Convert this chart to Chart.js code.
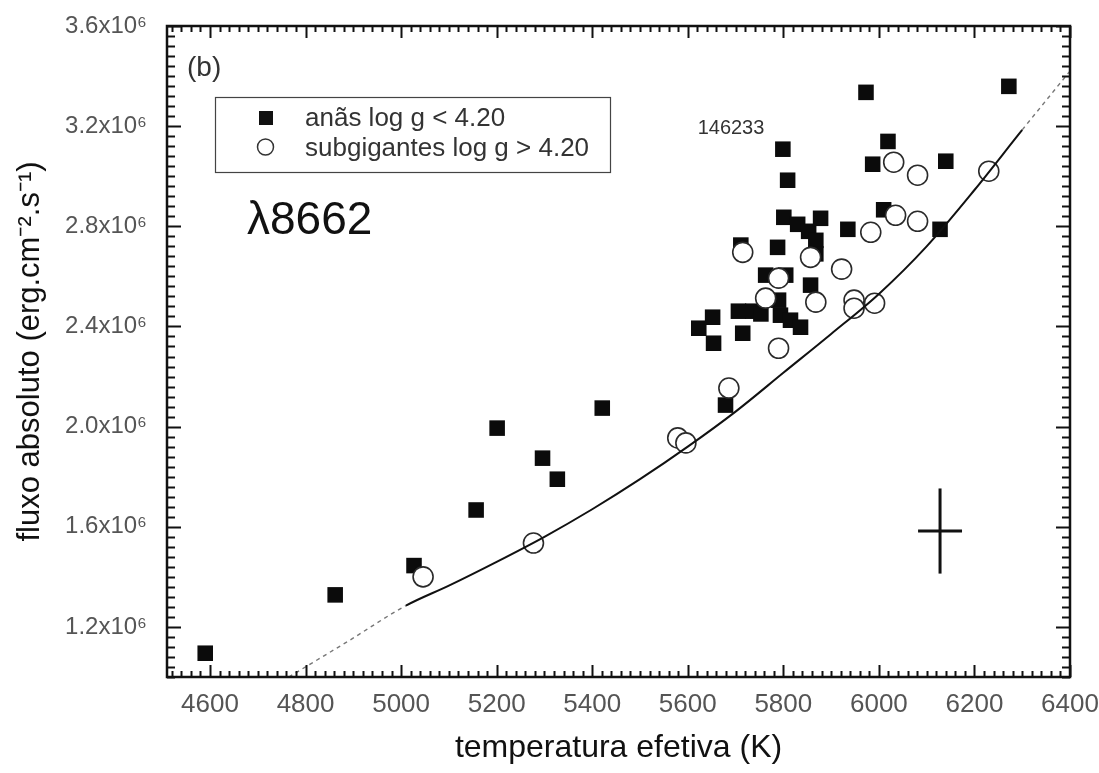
<!DOCTYPE html>
<html>
<head>
<meta charset="utf-8">
<script src="https://cdn.jsdelivr.net/npm/chart.js@4.4.1/dist/chart.umd.min.js"></script>
<style>
  html, body { margin: 0; padding: 0; background: #ffffff; }
  #wrap { width: 1099px; height: 773px; }
</style>
</head>
<body>
<div id="wrap"><canvas id="c" width="1099" height="773"></canvas></div>
<script>
// Axis ticks
const xTicks = [4600, 4800, 5000, 5200, 5400, 5600, 5800, 6000, 6200, 6400];
const yTicks = [1.2e6, 1.6e6, 2.0e6, 2.4e6, 2.8e6, 3.2e6, 3.6e6];
const yTickLabels = ['1.2x10⁶', '1.6x10⁶', '2.0x10⁶', '2.4x10⁶', '2.8x10⁶', '3.2x10⁶', '3.6x10⁶'];

// Dwarfs (log g < 4.20): effective temperature (K) and absolute flux
const dwarfTeff = [4590, 4862, 5027, 5157, 5201, 5296, 5327, 5421, 5623, 5652,
                   5654, 5679, 5706, 5711, 5715, 5736, 5753, 5763, 5805, 5788,
                   5790, 5794, 5815, 5836, 5799, 5809, 5801, 5830, 5853, 5868,
                   5868, 5878, 5857, 5935, 5973, 5987, 6010, 6019, 6128, 6140, 6272];
const dwarfFlux = [1.095e6, 1.328e6, 1.445e6, 1.667e6, 1.994e6, 1.874e6, 1.790e6, 2.074e6, 2.393e6, 2.437e6,
                   2.333e6, 2.086e6, 2.461e6, 2.725e6, 2.373e6, 2.461e6, 2.450e6, 2.605e6, 2.605e6, 2.716e6,
                   2.505e6, 2.445e6, 2.425e6, 2.397e6, 3.108e6, 2.984e6, 2.836e6, 2.808e6, 2.780e6, 2.744e6,
                   2.690e6, 2.832e6, 2.565e6, 2.788e6, 3.335e6, 3.048e6, 2.866e6, 3.139e6, 2.788e6, 3.060e6, 3.359e6];

// Subgiants (log g > 4.20)
const subTeff = [5046, 5277, 5579, 5596, 5686, 5790, 5763, 5790, 5868, 5715,
                 5857, 5922, 5948, 5948, 5991, 5983, 6031, 6035, 6081, 6081, 6230];
const subFlux = [1.400e6, 1.535e6, 1.955e6, 1.935e6, 2.154e6, 2.313e6, 2.513e6, 2.593e6, 2.497e6, 2.696e6,
                 2.676e6, 2.629e6, 2.505e6, 2.473e6, 2.493e6, 2.776e6, 3.056e6, 2.844e6, 3.004e6, 2.820e6, 3.020e6];

// Model curve (solid inside the computed range, dashed extrapolation outside)
const curveTeff = [4765, 4890, 5010, 5100, 5200, 5300, 5400, 5500, 5600, 5700,
                   5800, 5900, 6000, 6100, 6200, 6300, 6400];
const curveFlux = [1.000e6, 1.144e6, 1.285e6, 1.365e6, 1.460e6, 1.560e6, 1.670e6, 1.790e6, 1.920e6, 2.060e6,
                   2.215e6, 2.370e6, 2.530e6, 2.720e6, 2.945e6, 3.185e6, 3.420e6];
const solidFrom = 5010;
const solidTo = 6300;

// Typical uncertainty
const errTeff = 6128;
const errFlux = 1.583e6;
const errDTeff = 46;
const errDFlux = 0.17e6;

const FONT = '"Liberation Sans", Arial, Helvetica, sans-serif';

const toXY = (xs, ys) => xs.map((x, i) => ({ x: x, y: ys[i] }));

const framePlugin = {
  id: 'frame',
  afterDraw(chart) {
    const { ctx, chartArea: ca, scales } = chart;
    const xs = scales.x, ys = scales.y;
    ctx.save();
    ctx.strokeStyle = '#111';
    // inward ticks on all four sides
    ctx.lineWidth = 2;
    const majorLen = 12, minorLen = 6;
    const xStep = (xTicks[1] - xTicks[0]) / 10;
    for (let v = xTicks[0] - Math.floor((xTicks[0] - xs.min) / xStep) * xStep; v <= xs.max + 0.01; v += xStep) {
      const isMajor = xTicks.some(t => Math.abs(t - v) < 0.5);
      const len = isMajor ? majorLen : minorLen;
      const px = Math.round(xs.getPixelForValue(v)) + 0.5;
      ctx.beginPath();
      ctx.moveTo(px, ca.bottom); ctx.lineTo(px, ca.bottom - len);
      ctx.moveTo(px, ca.top); ctx.lineTo(px, ca.top + len);
      ctx.stroke();
    }
    const yStep = (yTicks[1] - yTicks[0]) / 10;
    for (let v = yTicks[0] - Math.floor((yTicks[0] - ys.min) / yStep + 1e-6) * yStep; v <= ys.max + 1; v += yStep) {
      const isMajor = yTicks.some(t => Math.abs(t - v) < 10);
      const len = isMajor ? majorLen + 2 : minorLen + 2;
      const py = Math.round(ys.getPixelForValue(v)) + 0.5;
      ctx.beginPath();
      ctx.moveTo(ca.left, py); ctx.lineTo(ca.left + len, py);
      ctx.moveTo(ca.right, py); ctx.lineTo(ca.right - len, py);
      ctx.stroke();
    }
    // plot frame
    ctx.lineWidth = 2.5;
    ctx.strokeRect(ca.left, ca.top, ca.right - ca.left, ca.bottom - ca.top);

    // panel tag and line label
    ctx.fillStyle = '#333';
    ctx.textBaseline = 'middle';
    ctx.textAlign = 'left';
    ctx.font = '28px ' + FONT;
    ctx.fillText('(b)', ca.left + 20, ca.top + 42);
    ctx.fillStyle = '#111';
    ctx.font = '46px ' + FONT;
    ctx.fillText('λ8662', ca.left + 80, ca.top + 195);
    ctx.fillStyle = '#333';
    ctx.font = '20px ' + FONT;
    ctx.textAlign = 'center';
    ctx.fillText('146233', ca.left + 564, ca.top + 102);

    // legend box
    const lx = ca.left + 48, ly = ca.top + 71, lw = 395, lh = 75;
    ctx.fillStyle = '#fff';
    ctx.fillRect(lx, ly, lw, lh);
    ctx.lineWidth = 1.2;
    ctx.strokeStyle = '#444';
    ctx.strokeRect(lx + 0.5, ly + 0.5, lw, lh);
    const d0 = chart.data.datasets[2], d1 = chart.data.datasets[1];
    ctx.fillStyle = '#111';
    ctx.fillRect(lx + 44, ly + 14, 14, 14);
    ctx.beginPath();
    ctx.lineWidth = 1.5;
    ctx.strokeStyle = '#333';
    ctx.arc(lx + 50.5, ly + 50, 8, 0, Math.PI * 2);
    ctx.stroke();
    ctx.fillStyle = '#333';
    ctx.textAlign = 'left';
    ctx.font = '26px ' + FONT;
    ctx.fillText(d0.label, lx + 90, ly + 22);
    ctx.fillText(d1.label, lx + 90, ly + 52);
    ctx.restore();
  }
};

const curvePoints = toXY(curveTeff, curveFlux);
const outside = c => c.p1.parsed.x <= solidFrom || c.p0.parsed.x >= solidTo;

new Chart(document.getElementById('c'), {
  type: 'scatter',
  data: {
    datasets: [
      {
        type: 'line',
        label: 'modelo',
        data: curvePoints,
        order: 0,
        showLine: true,
        fill: false,
        pointRadius: 0,
        cubicInterpolationMode: 'monotone',
        borderColor: '#111',
        borderWidth: 2,
        segment: {
          borderDash: c => outside(c) ? [4, 4] : undefined,
          borderColor: c => outside(c) ? '#777' : '#111',
          borderWidth: c => outside(c) ? 1.4 : 2
        }
      },
      {
        label: 'subgigantes log g > 4.20',
        data: toXY(subTeff, subFlux),
        order: 1,
        pointStyle: 'circle',
        pointRadius: 10,
        backgroundColor: '#ffffff',
        borderColor: '#2a2a2a',
        borderWidth: 1.6
      },
      {
        label: 'anãs log g < 4.20',
        data: toXY(dwarfTeff, dwarfFlux),
        order: 2,
        pointStyle: 'rect',
        pointRadius: 11,
        backgroundColor: '#0b0b0b',
        borderColor: '#0b0b0b',
        borderWidth: 0
      },
      {
        type: 'line',
        label: 'erro T',
        data: [{ x: errTeff - errDTeff, y: errFlux }, { x: errTeff + errDTeff, y: errFlux }],
        order: 0,
        pointRadius: 0,
        borderColor: '#111',
        borderWidth: 3
      },
      {
        type: 'line',
        label: 'erro F',
        data: [{ x: errTeff, y: errFlux - errDFlux }, { x: errTeff, y: errFlux + errDFlux }],
        order: 0,
        pointRadius: 0,
        borderColor: '#111',
        borderWidth: 3
      }
    ]
  },
  options: {
    responsive: false,
    animation: false,
    devicePixelRatio: 1,
    layout: { padding: { left: 0, right: 29, top: 26, bottom: 0 } },
    plugins: { legend: { display: false }, tooltip: { enabled: false } },
    elements: { point: { hoverRadius: 0 } },
    scales: {
      x: {
        type: 'linear',
        min: 4510,
        max: 6400,
        afterBuildTicks: s => { s.ticks = xTicks.map(v => ({ value: v })); },
        afterFit: s => { s.height = 96; s.paddingLeft = 0; s.paddingRight = 0; },
        grid: { display: false, drawTicks: false },
        border: { display: false },
        ticks: {
          padding: 12,
          color: '#555',
          font: { family: FONT, size: 26 },
          maxRotation: 0,
          autoSkip: false,
          callback: v => String(v)
        },
        title: {
          display: true,
          text: 'temperatura efetiva (K)',
          color: '#111',
          font: { family: FONT, size: 32 },
          padding: { top: 0, bottom: 6 }
        }
      },
      y: {
        type: 'linear',
        min: 1.0e6,
        max: 3.6e6,
        afterBuildTicks: s => { s.ticks = yTicks.map(v => ({ value: v })); },
        afterFit: s => { s.width = 167; s.paddingTop = 0; s.paddingBottom = 0; },
        grid: { display: false, drawTicks: false },
        border: { display: false },
        ticks: {
          padding: 20,
          color: '#555',
          font: { family: FONT, size: 24 },
          autoSkip: false,
          callback: v => yTickLabels[yTicks.findIndex(t => Math.abs(t - v) < 10)]
        },
        title: {
          display: true,
          text: 'fluxo absoluto (erg.cm⁻².s⁻¹)',
          color: '#111',
          font: { family: FONT, size: 31 },
          padding: { top: 12, bottom: 0 }
        }
      }
    }
  },
  plugins: [framePlugin]
});
</script>
</body>
</html>
